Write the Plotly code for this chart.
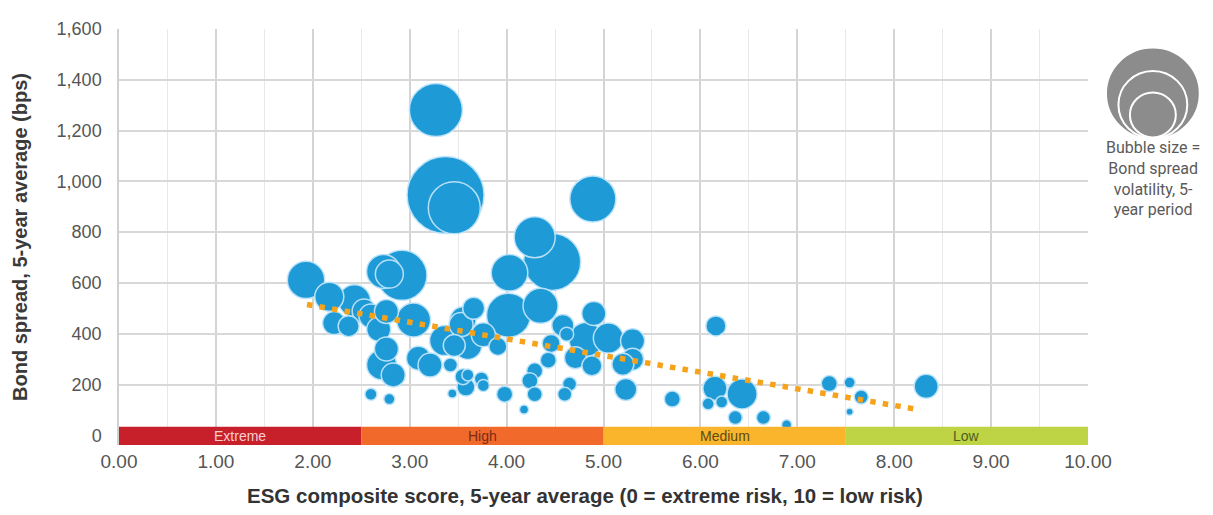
import plotly.graph_objects as go

# ---- data ----
esg_score = [3.27, 3.37, 3.46, 4.89, 4.29, 4.47, 4.03, 1.93, 2.17, 2.43,
             2.92, 2.73, 2.79, 2.53, 2.60, 2.22, 2.37, 2.68, 2.76, 3.04,
             2.76, 2.71, 2.83, 2.60, 2.79, 3.09, 3.21, 3.42, 3.36, 3.46,
             3.53, 3.66, 3.55, 3.60, 3.76, 3.91, 3.55, 3.60, 3.58, 3.74,
             3.76, 3.44, 3.98, 4.18, 4.02, 4.35, 4.29, 4.24, 4.29, 4.43,
             4.46, 4.58, 4.62, 4.65, 4.60, 4.71, 4.82, 4.90, 4.88, 5.05,
             5.30, 5.30, 5.20, 5.23, 5.71, 6.16, 6.15, 6.08, 6.22, 6.43,
             6.36, 6.65, 6.89, 7.33, 7.54, 7.66, 7.54, 8.33]
bond_spread = [1281, 946, 896, 931, 780, 683, 640, 612, 546, 530,
               630, 645, 635, 490, 470, 442, 430, 418, 488, 454,
               340, 278, 238, 162, 143, 304, 277, 277, 373, 354,
               436, 500, 455, 354, 396, 350, 231, 238, 190, 222,
               196, 165, 162, 102, 473, 510, 254, 215, 162, 296,
               362, 433, 398, 202, 162, 306, 377, 480, 274, 383,
               372, 300, 280, 181, 143, 431, 185, 124, 131, 163,
               70, 70, 42, 204, 208, 151, 93, 193]
spread_volatility = [140.5, 296.5, 135.2, 105.8, 84.1, 162.5, 67.0, 69.9, 42.1, 51.2,
                     125.0, 57.8, 39.2, 28.8, 28.8, 26.5, 22.1, 28.8, 28.8, 57.8,
                     28.8, 45.0, 28.8, 7.2, 6.1, 28.8, 28.8, 9.8, 45.0, 24.2,
                     28.8, 24.2, 33.8, 39.2, 28.8, 16.2, 12.8, 7.2, 16.2, 9.8,
                     7.2, 4.1, 12.8, 4.1, 96.8, 61.3, 12.8, 12.8, 11.3, 12.8,
                     16.2, 24.2, 9.8, 9.8, 9.8, 24.2, 57.8, 28.8, 20.0, 45.0,
                     28.8, 24.2, 24.2, 24.2, 12.8, 20.0, 28.8, 7.2, 7.2, 45.0,
                     9.8, 9.8, 5.0, 12.8, 6.1, 9.8, 2.5, 28.8]

trend_x = [1.94, 8.27]
trend_y = [515, 100]

risk_bands = ["Extreme", "High", "Medium", "Low"]
band_start = [0.0, 2.5, 5.0, 7.5]
band_end = [2.5, 5.0, 7.5, 10.0]
band_colors = ["#c8202b", "#f26a2b", "#fbb52c", "#bed444"]
band_text_colors = ["#f6cfd0", "#7a2c14", "#5c4a12", "#4f5d22"]

x_ticks = [0, 1, 2, 3, 4, 5, 6, 7, 8, 9, 10]
y_ticks = [0, 200, 400, 600, 800, 1000, 1200, 1400, 1600]

x_title = "<b>ESG composite score, 5-year average (0 = extreme risk, 10 = low risk)</b>"
y_title = "<b>Bond spread, 5-year average (bps)</b>"
key_text = "Bubble size =<br>Bond spread<br>volatility, 5-<br>year period"

# page offset of the figure inside the browser window (default body margin)
PAGE_OFF = 8
M_LEFT, M_TOP = 117 - PAGE_OFF, 19 - PAGE_OFF
PLOT_W, PLOT_H = 971, 426

# draw bigger bubbles first so the smaller ones (and their outlines) sit on top
order = sorted(range(len(esg_score)), key=lambda i: -spread_volatility[i])

fig = go.Figure()

fig.add_trace(go.Scatter(
    x=[esg_score[i] for i in order],
    y=[bond_spread[i] for i in order],
    mode="markers",
    marker=dict(
        size=[spread_volatility[i] for i in order],
        sizemode="area",
        sizeref=0.1,
        color="#1e9ad6",
        opacity=1,
        line=dict(color="rgba(190,228,250,0.95)", width=1.5),
    ),
    hoverinfo="x+y",
    showlegend=False,
))

fig.add_trace(go.Scatter(
    x=trend_x, y=trend_y, mode="lines",
    line=dict(color="#f7a21b", width=5.5, dash="5.5px,7.2px"),
    hoverinfo="skip", showlegend=False,
))

shapes = []
annotations = []
for name, x0, x1, c, tc in zip(risk_bands, band_start, band_end, band_colors, band_text_colors):
    shapes.append(dict(type="rect", xref="x", yref="y", x0=x0, x1=x1, y0=-38, y1=34,
                       fillcolor=c, line=dict(width=0), layer="above"))
    annotations.append(dict(x=(x0 + x1) / 2, y=-2, xref="x", yref="y", text=name,
                            showarrow=False,
                            font=dict(family="Liberation Sans Narrow, Arial Narrow, sans-serif",
                                      size=14, color=tc)))

# positions given in reference-window pixels, converted to plot-area paper units
def px_x(p):
    return (p - 117) / float(PLOT_W)

def px_y(p):
    return (445 - p) / float(PLOT_H)

key_circles = [(1153, 38, 132), (1153, 62, 131), (1153, 84, 130)]
for cx, top, bot in key_circles:
    half = (bot - top) / 2
    shapes.append(dict(type="circle", xref="paper", yref="paper",
                       x0=px_x(cx - half), x1=px_x(cx + half),
                       y0=px_y(bot), y1=px_y(top),
                       fillcolor="#8c8c8c", line=dict(color="white", width=2)))

annotations.append(dict(
    x=px_x(1153), y=px_y(172), xref="paper", yref="paper",
    text=key_text,
    showarrow=False, xanchor="center", yanchor="middle", align="center",
    font=dict(family="Roboto, Arial, sans-serif", size=16, color="#5a5a5a")))

annotations.append(dict(
    x=px_x(584), y=px_y(497), xref="paper", yref="paper",
    text=x_title, showarrow=False, xanchor="center", yanchor="middle",
    font=dict(family="Liberation Sans Narrow, Arial Narrow, sans-serif",
              size=20.5, color="#333333")))

fig.update_layout(
    width=1213, height=515,
    margin=dict(l=M_LEFT, r=1213 - M_LEFT - PLOT_W, t=M_TOP, b=515 - M_TOP - PLOT_H),
    paper_bgcolor="white", plot_bgcolor="white",
    shapes=shapes, annotations=annotations,
    xaxis=dict(
        range=[0, 10], tickvals=x_ticks, tickformat=".2f",
        showgrid=True, gridcolor="#d4d4d4", gridwidth=1.5,
        minor=dict(dtick=0.5, showgrid=True, gridcolor="#e8e8e8", gridwidth=1),
        zeroline=False, showline=False, ticks="", ticklabelstandoff=3,
        tickfont=dict(family="Liberation Sans, Arial, sans-serif", size=19, color="#555555"),
        fixedrange=True,
    ),
    yaxis=dict(
        range=[-38, 1600], tickvals=y_ticks, tickformat=",",
        showgrid=True, gridcolor="#d8d8d8", gridwidth=1.5,
        zeroline=False, showline=True, linecolor="#d0d0d0", linewidth=1.5,
        ticks="", ticklabelstandoff=12,
        tickfont=dict(family="Liberation Sans, Arial, sans-serif", size=18, color="#555555"),
        title=dict(text=y_title,
                   font=dict(family="Liberation Sans, Arial, sans-serif", size=20, color="#3a3a3a"),
                   standoff=24),
        fixedrange=True,
    ),
)

fig.write_html("out.html")
